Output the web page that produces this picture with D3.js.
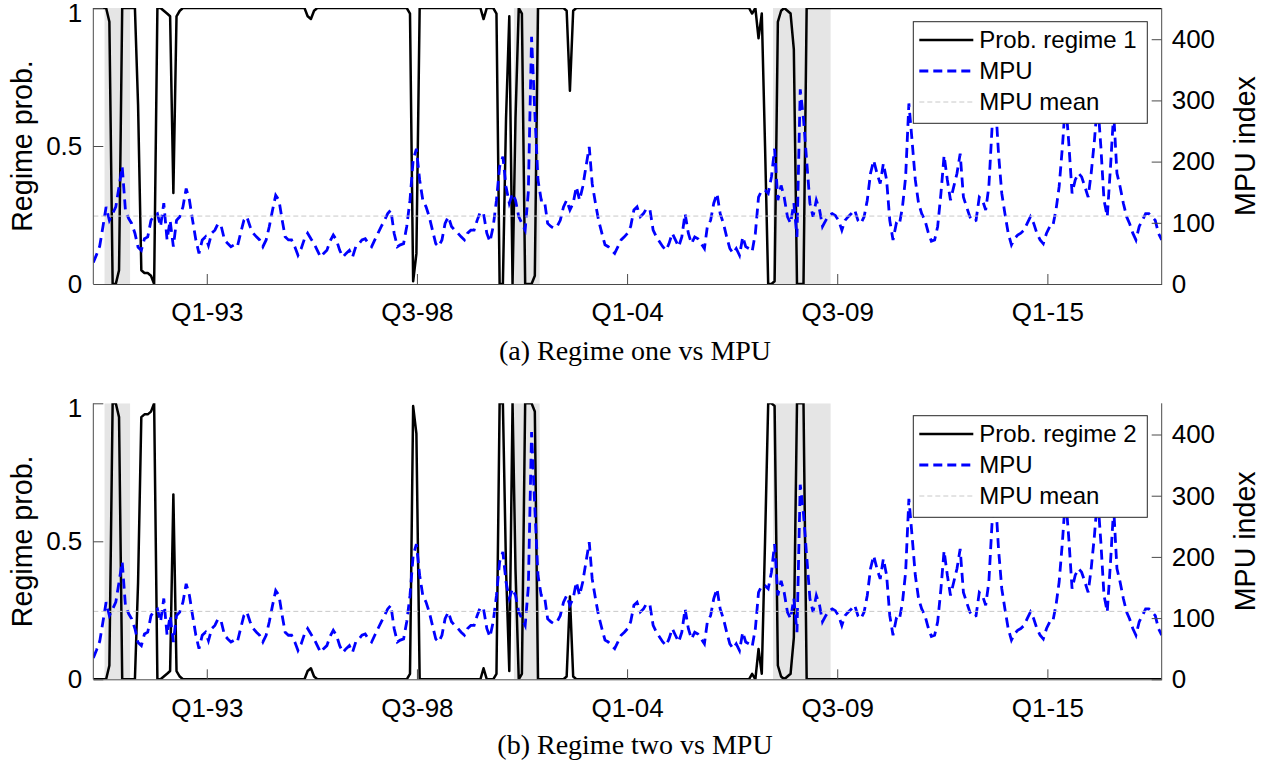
<!DOCTYPE html>
<html>
<head>
<meta charset="utf-8">
<script src="https://cdn.jsdelivr.net/npm/d3@7"></script>
<style>
  html, body { margin: 0; padding: 0; background: #fff; }
  svg { display: block; }
</style>
</head>
<body>
<div id="chart"></div>
<script>
// Monthly observations, mid-month, Mar 1990 .. Jan 2018 (one row per year)
const startYear = 1990;
const startMonth = 2; // March

const mpu = [
  35, 48, 62, 94, 126, 104, 115, 126, 159, 192,
  120, 107, 99, 83, 60, 55, 74, 77, 104, 112, 115, 94,
  132, 72, 104, 61, 104, 110, 126, 156, 137, 104, 72, 50,
  72, 77, 63, 83, 88, 99, 94, 72, 66, 61, 64, 61,
  83, 104, 110, 94, 83, 77, 72, 61, 72, 94, 121, 145,
  137, 104, 77, 72, 72, 61, 47, 58, 74, 83, 74, 66,
  55, 44, 50, 55, 70, 80, 72, 55, 44, 50, 55, 44,
  61, 66, 72, 74, 66, 61, 72, 83, 94, 104, 115, 121,
  83, 61, 64, 66, 94, 137, 202, 221, 170, 137, 126, 110,
  88, 66, 61, 72, 99, 110, 94, 88, 83, 77, 72, 83,
  88, 88, 104, 118, 115, 83, 69, 94, 137, 192, 208, 159,
  132, 148, 137, 110, 99, 88, 150, 404, 280, 170, 137, 137,
  99, 94, 91, 94, 104, 126, 137, 121, 132, 159, 137, 159,
  192, 224, 164, 132, 104, 83, 64, 61, 55, 50, 61, 72,
  77, 83, 94, 121, 126, 110, 115, 124, 121, 88, 77, 69,
  61, 55, 66, 83, 72, 61, 77, 115, 83, 66, 77, 74,
  66, 58, 94, 104, 132, 148, 115, 99, 77, 58, 50, 58,
  47, 77, 61, 58, 53, 83, 142, 153, 153, 148, 175, 221,
  137, 161, 142, 110, 99, 132, 77, 318, 270, 202, 132, 110,
  137, 121, 94, 104, 112, 115, 112, 104, 88, 104, 110, 115,
  121, 104, 99, 110, 137, 181, 202, 181, 164, 197, 170, 104,
  72, 99, 96, 126, 175, 295, 235, 170, 132, 115, 104, 85,
  70, 72, 94, 148, 210, 170, 137, 159, 181, 213, 142, 126,
  110, 102, 104, 142, 137, 121, 159, 257, 300, 213, 148, 115,
  83, 64, 74, 80, 83, 88, 99, 110, 99, 83, 72, 66,
  83, 94, 94, 121, 159, 224, 300, 230, 148, 170, 181, 175,
  159, 142, 181, 235, 300, 224, 137, 110, 192, 280, 181, 159,
  132, 110, 99, 83, 72, 94, 104, 115, 115, 110, 104, 83,
  72
];

const regime1 = [
  1, 1, 1, 1, 1, 0.95, 0, 0, 0.05, 1,
  1, 1, 1, 1, 0.65, 0.05, 0.04, 0.04, 0.03, 0, 1, 1,
  0.99, 0.98, 0.97, 0.33, 0.97, 0.99, 1, 1, 1, 1, 1, 1,
  1, 1, 1, 1, 1, 1, 1, 1, 1, 1, 1, 1,
  1, 1, 1, 1, 1, 1, 1, 1, 1, 1, 1, 1,
  1, 1, 1, 1, 1, 1, 1, 1, 1, 0.97, 0.96, 0.99,
  1, 1, 1, 1, 1, 1, 1, 1, 1, 1, 1, 1,
  1, 1, 1, 1, 1, 1, 1, 1, 1, 1, 1, 1,
  1, 1, 1, 1, 1, 0.98, 0.01, 0.11, 1, 1, 1, 1,
  1, 1, 1, 1, 1, 1, 1, 1, 1, 1, 1, 1,
  1, 1, 1, 1, 0.96, 1, 1, 1, 0.98, 0, 0, 0.6,
  0.97, 0, 0.6, 1, 0.98, 0, 0, 0, 0.03, 1, 1, 1,
  1, 1, 1, 1, 1, 1, 0.99, 0.7, 0.99, 1, 1, 1,
  1, 1, 1, 1, 1, 1, 1, 1, 1, 1, 1, 1,
  1, 1, 1, 1, 1, 1, 1, 1, 1, 1, 1, 1,
  1, 1, 1, 1, 1, 1, 1, 1, 1, 1, 1, 1,
  1, 1, 1, 1, 1, 1, 1, 1, 1, 1, 1, 1,
  1, 1, 1, 1, 0.98, 1, 0.89, 0.98, 0.5, 0, 0, 0.01,
  0.95, 0.99, 1, 0.99, 0.98, 0.85, 0, 0, 0, 1, 1, 1,
  1, 1, 1, 1, 1, 1, 1, 1, 1, 1, 1, 1,
  1, 1, 1, 1, 1, 1, 1, 1, 1, 1, 1, 1,
  1, 1, 1, 1, 1, 1, 1, 1, 1, 1, 1, 1,
  1, 1, 1, 1, 1, 1, 1, 1, 1, 1, 1, 1,
  1, 1, 1, 1, 1, 1, 1, 1, 1, 1, 1, 1,
  1, 1, 1, 1, 1, 1, 1, 1, 1, 1, 1, 1,
  1, 1, 1, 1, 1, 1, 1, 1, 1, 1, 1, 1,
  1, 1, 1, 1, 1, 1, 1, 1, 1, 1, 1, 1,
  1, 1, 1, 1, 1, 1, 1, 1, 1, 1, 1, 1,
  1
];

const regime2 = [
  0, 0, 0, 0, 0, 0.05, 1, 1, 0.95, 0,
  0, 0, 0, 0, 0.35, 0.95, 0.96, 0.96, 0.97, 1, 0, 0,
  0.01, 0.02, 0.03, 0.67, 0.03, 0.01, 0, 0, 0, 0, 0, 0,
  0, 0, 0, 0, 0, 0, 0, 0, 0, 0, 0, 0,
  0, 0, 0, 0, 0, 0, 0, 0, 0, 0, 0, 0,
  0, 0, 0, 0, 0, 0, 0, 0, 0, 0.03, 0.04, 0.01,
  0, 0, 0, 0, 0, 0, 0, 0, 0, 0, 0, 0,
  0, 0, 0, 0, 0, 0, 0, 0, 0, 0, 0, 0,
  0, 0, 0, 0, 0, 0.02, 0.99, 0.89, 0, 0, 0, 0,
  0, 0, 0, 0, 0, 0, 0, 0, 0, 0, 0, 0,
  0, 0, 0, 0, 0.04, 0, 0, 0, 0.02, 1, 1, 0.4,
  0.03, 1, 0.4, 0, 0.02, 1, 1, 1, 0.97, 0, 0, 0,
  0, 0, 0, 0, 0, 0, 0.01, 0.3, 0.01, 0, 0, 0,
  0, 0, 0, 0, 0, 0, 0, 0, 0, 0, 0, 0,
  0, 0, 0, 0, 0, 0, 0, 0, 0, 0, 0, 0,
  0, 0, 0, 0, 0, 0, 0, 0, 0, 0, 0, 0,
  0, 0, 0, 0, 0, 0, 0, 0, 0, 0, 0, 0,
  0, 0, 0, 0, 0.02, 0, 0.11, 0.02, 0.5, 1, 1, 0.99,
  0.05, 0.01, 0, 0.01, 0.02, 0.15, 1, 1, 1, 0, 0, 0,
  0, 0, 0, 0, 0, 0, 0, 0, 0, 0, 0, 0,
  0, 0, 0, 0, 0, 0, 0, 0, 0, 0, 0, 0,
  0, 0, 0, 0, 0, 0, 0, 0, 0, 0, 0, 0,
  0, 0, 0, 0, 0, 0, 0, 0, 0, 0, 0, 0,
  0, 0, 0, 0, 0, 0, 0, 0, 0, 0, 0, 0,
  0, 0, 0, 0, 0, 0, 0, 0, 0, 0, 0, 0,
  0, 0, 0, 0, 0, 0, 0, 0, 0, 0, 0, 0,
  0, 0, 0, 0, 0, 0, 0, 0, 0, 0, 0, 0,
  0, 0, 0, 0, 0, 0, 0, 0, 0, 0, 0, 0,
  0
];

const mpuMean = 111;
const mpuAxisMax = 451;

// shaded recessions (start, end)
const recessions = [
  ["1990-07-01", "1991-03-01"],
  ["2001-03-01", "2001-11-01"],
  ["2007-12-01", "2009-06-01"]
];

const xTickDates = ["1993-02-28", "1998-08-21", "2004-02-11", "2009-08-03", "2015-01-24"];
const xTickLabels = ["Q1-93", "Q3-98", "Q1-04", "Q3-09", "Q1-15"];
const probTicks = [0, 0.5, 1];
const mpuTicks = [0, 100, 200, 300, 400];

const panels = [
  { regime: regime1, legend: "Prob. regime 1", caption: "(a) Regime one vs MPU" },
  { regime: regime2, legend: "Prob. regime 2", caption: "(b) Regime two vs MPU" }
];

(function () {
  const width = 1273;
  const height = 767;
  const left = 93.3;
  const right = 1161.7;
  const panelTop = [8, 403.3];
  const panelH = 276;
  const offsetY = 394;

  const sans = "'Liberation Sans', Arial, Helvetica, sans-serif";
  const serif = "'Liberation Serif', 'Times New Roman', serif";
  const axisColor = "#4a4a4a";

  const parse = d3.timeParse("%Y-%m-%d");
  const dates = mpu.map((_, i) => new Date(startYear, startMonth + i, 16));

  const x = d3.scaleTime()
    .domain([dates[0], dates[dates.length - 1]])
    .range([left, right]);

  const svg = d3.select("#chart")
    .append("svg")
    .attr("width", width)
    .attr("height", height)
    .attr("viewBox", `0 0 ${width} ${height}`);

  svg.append("rect").attr("width", width).attr("height", height).attr("fill", "#fff");

  panels.forEach((p, k) => {
    const top = panelTop[k];
    const bottom = top + panelH;
    const yL = d3.scaleLinear().domain([0, 1]).range([bottom, top]);
    const yR = d3.scaleLinear().domain([0, mpuAxisMax]).range([bottom, top]);

    const g = svg.append("g");
    const clipId = `clip-${k}`;
    svg.append("clipPath").attr("id", clipId)
      .append("rect")
      .attr("x", left).attr("y", top)
      .attr("width", right - left).attr("height", panelH);

    const plot = g.append("g").attr("clip-path", `url(#${clipId})`);

    // recession bands
    plot.selectAll("rect.band")
      .data(recessions)
      .join("rect")
      .attr("class", "band")
      .attr("x", (d) => x(parse(d[0])))
      .attr("width", (d) => x(parse(d[1])) - x(parse(d[0])))
      .attr("y", top)
      .attr("height", panelH)
      .attr("fill", "#e5e5e5");

    // regime probability
    const probLine = d3.line()
      .x((d, i) => x(dates[i]))
      .y((d) => yL(d));
    plot.append("path")
      .datum(p.regime)
      .attr("d", probLine)
      .attr("fill", "none")
      .attr("stroke", "#000")
      .attr("stroke-width", 2.5)
      .attr("stroke-linejoin", "round");

    // MPU
    const mpuLine = d3.line()
      .x((d, i) => x(dates[i]))
      .y((d) => yR(d));
    plot.append("path")
      .datum(mpu)
      .attr("d", mpuLine)
      .attr("fill", "none")
      .attr("stroke", "#0000ff")
      .attr("stroke-width", 2.8)
      .attr("stroke-dasharray", "10,6");

    // MPU mean
    plot.append("line")
      .attr("x1", left).attr("x2", right)
      .attr("y1", yR(mpuMean)).attr("y2", yR(mpuMean))
      .attr("stroke", "#c8c8c8")
      .attr("stroke-width", 1)
      .attr("stroke-dasharray", "5,3");

    // axes
    const xAxis = d3.axisBottom(x)
      .tickValues(xTickDates.map(parse))
      .tickFormat((d, i) => xTickLabels[i])
      .tickSizeInner(-10)
      .tickSizeOuter(0)
      .tickPadding(19);
    const gx = g.append("g").attr("transform", `translate(0,${bottom})`).call(xAxis);

    const leftAxis = d3.axisLeft(yL)
      .tickValues(probTicks)
      .tickFormat(d3.format("~g"))
      .tickSizeInner(-10)
      .tickSizeOuter(0)
      .tickPadding(11);
    const gl = g.append("g").attr("transform", `translate(${left},0)`).call(leftAxis);

    const rightAxis = d3.axisRight(yR)
      .tickValues(mpuTicks)
      .tickSizeInner(-10)
      .tickSizeOuter(0)
      .tickPadding(10);
    const gr = g.append("g").attr("transform", `translate(${right},0)`).call(rightAxis);

    [gx, gl, gr].forEach((a) => {
      a.attr("font-family", sans).attr("font-size", 26);
      a.selectAll("path, line").attr("stroke", axisColor);
      a.selectAll("text").attr("fill", "#000");
    });
    gl.select(".domain").attr("d", `M0,${top}V${bottom}`);
    gr.select(".domain").attr("d", `M0,${top}V${bottom}`);
    // keep the top "1" label inside the page
    gl.selectAll(".tick text").filter((d) => d === 1).attr("dy", "0.5em");

    // axis titles
    g.append("text")
      .attr("transform", `translate(22,${(top + bottom) / 2}) rotate(-90)`)
      .attr("text-anchor", "middle")
      .attr("dy", "0.35em")
      .attr("font-family", sans)
      .attr("font-size", 28.6)
      .text("Regime prob.");

    g.append("text")
      .attr("transform", `translate(1245,${(top + bottom) / 2}) rotate(-90)`)
      .attr("text-anchor", "middle")
      .attr("dy", "0.35em")
      .attr("font-family", sans)
      .attr("font-size", 28.6)
      .text("MPU index");

    // caption
    g.append("text")
      .attr("x", 635)
      .attr("y", 360 + k * offsetY)
      .attr("text-anchor", "middle")
      .attr("font-family", serif)
      .attr("font-size", 28)
      .text(p.caption);

    // legend
    const lg = g.append("g").attr("transform", `translate(913.3,${21.7 + k * offsetY})`);
    lg.append("rect")
      .attr("width", 234)
      .attr("height", 101.6)
      .attr("fill", "#fff")
      .attr("stroke", "#262626")
      .attr("stroke-width", 1);

    const items = [
      { label: p.legend, color: "#000", width: 2.5, dash: null },
      { label: "MPU", color: "#0000ff", width: 2.8, dash: "9,5" },
      { label: "MPU mean", color: "#c8c8c8", width: 1, dash: "5,3" }
    ];
    const rows = lg.selectAll("g.item")
      .data(items)
      .join("g")
      .attr("class", "item")
      .attr("transform", (d, i) => `translate(0,${18.3 + i * 31})`);
    rows.append("line")
      .attr("x1", 6).attr("x2", 60)
      .attr("stroke", (d) => d.color)
      .attr("stroke-width", (d) => d.width)
      .attr("stroke-dasharray", (d) => d.dash);
    rows.append("text")
      .attr("x", 66)
      .attr("dy", "0.35em")
      .attr("font-family", sans)
      .attr("font-size", 24)
      .text((d) => d.label);
  });
})();
</script>
</body>
</html>
